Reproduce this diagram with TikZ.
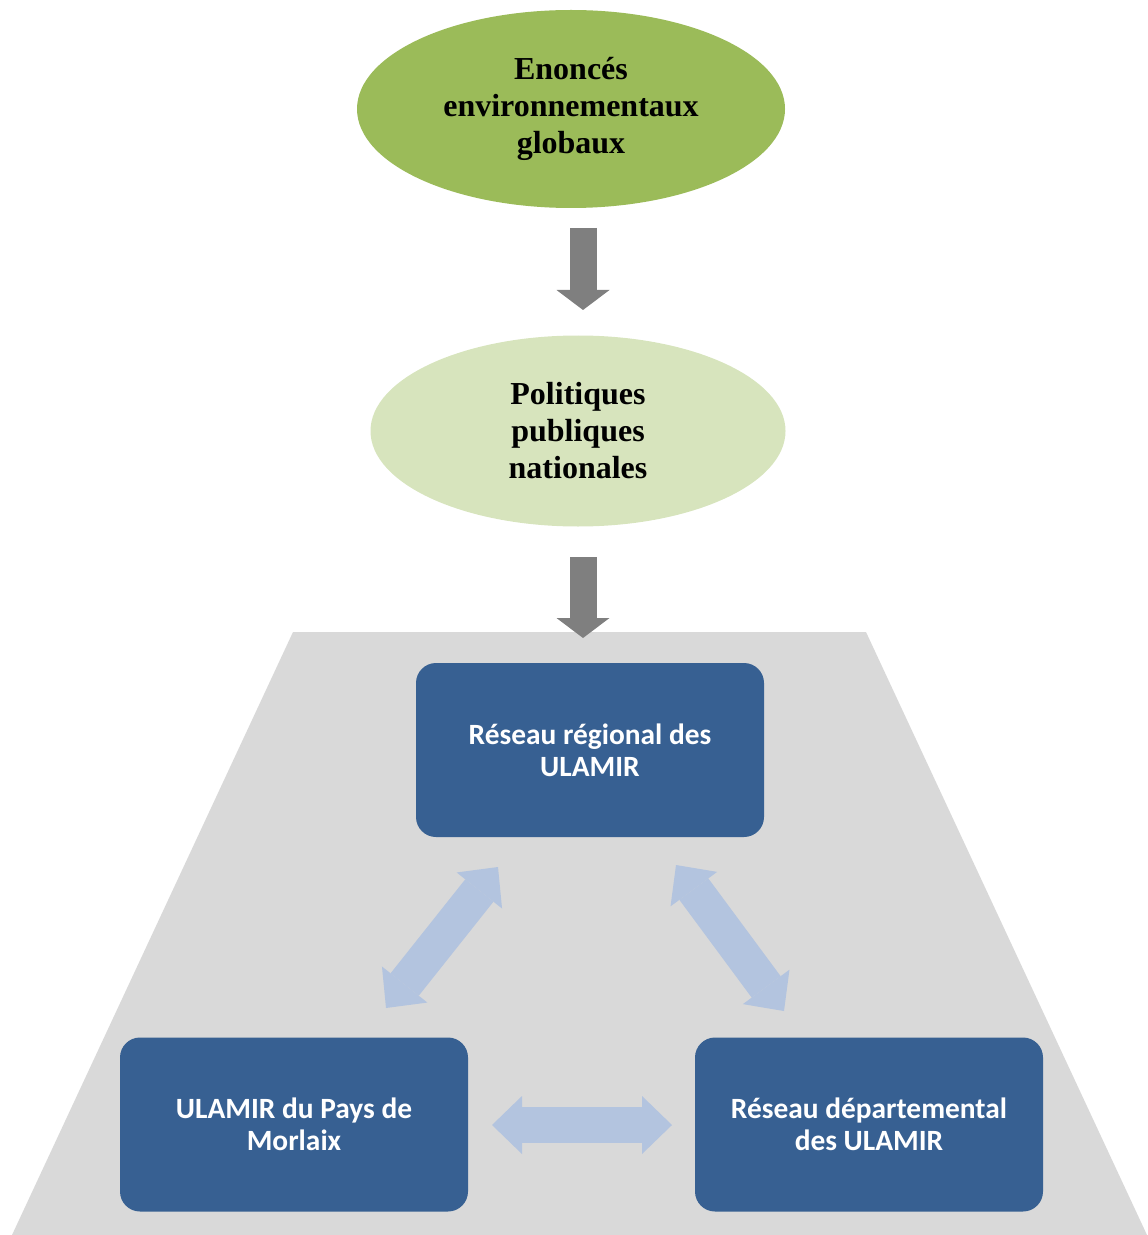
\documentclass[tikz,border=0pt]{standalone}
\usepackage{fontspec}
\setmainfont{Liberation Serif}
\newfontfamily\boxfont{Carlito}
\usetikzlibrary{shapes.geometric,arrows.meta,positioning}
\definecolor{olive}{HTML}{9BBB59}
\definecolor{paleolive}{HTML}{D7E4BD}
\definecolor{arrowgray}{HTML}{7F7F7F}
\definecolor{trapgray}{HTML}{D9D9D9}
\definecolor{ulablue}{HTML}{376092}
\definecolor{linkblue}{HTML}{B3C4DF}
\tikzset
{
    levelnode/.style = {ellipse, inner sep=0pt, align=center, font=\fontsize{16}{18.5}\selectfont\bfseries},
    ulabox/.style = {rectangle, rounded corners=10pt, fill=ulablue, text=white, align=center, minimum width=174pt, minimum height=87pt, font=\boxfont\fontsize{14.7}{16}\selectfont\bfseries},
    downarrow/.style = {line width=13.5pt, color=arrowgray, arrows={-Triangle[length=10pt,width=26.5pt,line width=0pt]}},
    linkarrow/.style = {line width=18pt, color=linkblue, arrows={Triangle[length=15pt,width=29pt,line width=0pt]-Triangle[length=15pt,width=29pt,line width=0pt]}}
}

\begin{document}
\begin{tikzpicture}[x=0.5pt, y=-0.5pt]
\useasboundingbox (0,0) rectangle (1147,1235);
% local level
\fill[trapgray] (293,632) -- (866,632) -- (1147,1235) -- (12,1235) -- cycle;

\node[levelnode, fill=olive, minimum width=214pt, minimum height=99pt] (enonces) at (571,109) {Enoncés\\environnementaux\\globaux};
\node[levelnode, fill=paleolive, minimum width=207.5pt, minimum height=95.5pt] (politiques) at (578,431) {Politiques\\publiques\\nationales};

\node[ulabox] (regional) at (590,750) {Réseau régional des\\ULAMIR};
\node[ulabox] (morlaix) at (294,1124.5) {ULAMIR du Pays de\\Morlaix};
\node[ulabox] (departemental) at (869,1124.5) {Réseau départemental\\des ULAMIR};

\coordinate (d1a) at (583,228);
\coordinate (d1b) at (583,310);
\coordinate (d2a) at (583,557);
\coordinate (d2b) at (583,638);
\draw[downarrow] (d1a) -- (d1b);
\draw[downarrow] (d2a) -- (d2b);

\coordinate (lm) at (386,1008);
\coordinate (lr) at (498,867);
\coordinate (rr) at (676,865);
\coordinate (rd) at (784,1011);
\coordinate (hm) at (492,1125);
\coordinate (hd) at (672,1125);
\draw[linkarrow] (lm) -- (lr);
\draw[linkarrow] (rr) -- (rd);
\draw[linkarrow] (hm) -- (hd);
\end{tikzpicture}
\end{document}
